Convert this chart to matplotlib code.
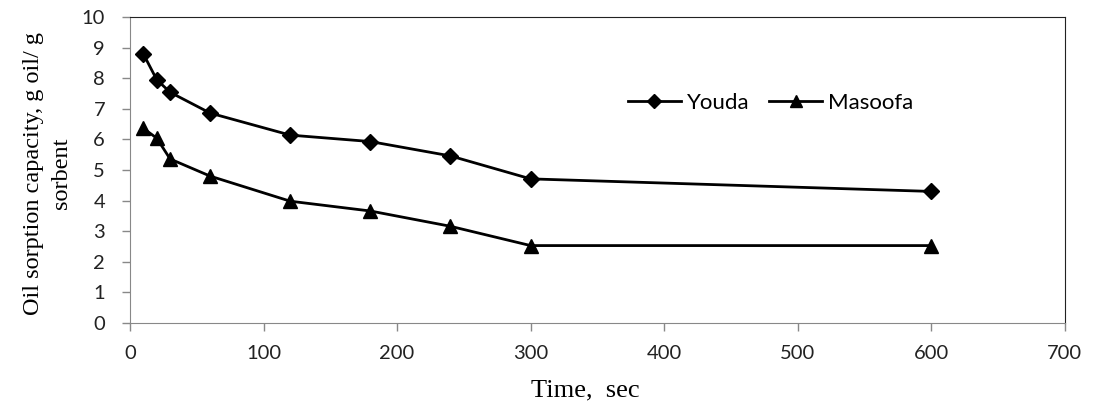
import matplotlib.pyplot as plt

time_sec = [10, 20, 30, 60, 120, 180, 240, 300, 600]
youda = [8.79, 7.95, 7.54, 6.86, 6.14, 5.93, 5.46, 4.71, 4.30]
masoofa = [6.36, 6.04, 5.36, 4.80, 3.98, 3.66, 3.16, 2.53, 2.53]

x_ticks = [0, 100, 200, 300, 400, 500, 600, 700]
y_ticks = list(range(0, 11))

fig = plt.figure(figsize=(10.93, 4.05), dpi=100)
ax = fig.add_axes([0.119, 0.2025, 0.855, 0.7555])

ax.plot(time_sec, youda, color='black', lw=2.0, marker='D', markersize=8.5, label='Youda')
ax.plot(time_sec, masoofa, color='black', lw=2.0, marker='^', markersize=10, label='Masoofa')

ax.set_xlim(0, 700)
ax.set_ylim(0, 10)
ax.set_xticks(x_ticks)
ax.set_yticks(y_ticks)

tick_font = 'Lato'
for lab in ax.get_xticklabels() + ax.get_yticklabels():
    lab.set_family(tick_font)
    lab.set_fontsize(14.5)
    lab.set_color('#222222')

ax.tick_params(axis='both', direction='out', length=6, width=1, color='#888888')
ax.tick_params(axis='x', pad=10)
ax.tick_params(axis='y', pad=12)

ax.spines['left'].set_color('#888888')
ax.spines['bottom'].set_color('#888888')
ax.spines['top'].set_color('#222222')
ax.spines['right'].set_color('#222222')

ax.set_xlabel('Time,  sec', family='Liberation Serif', fontsize=19)
ax.xaxis.set_label_coords(0.487, -0.185)
ax.set_ylabel('Oil sorption capacity, g oil/ g\nsorbent', family='Liberation Serif',
              fontsize=17.5, linespacing=1.45)
ax.yaxis.set_label_coords(-0.062, 0.489)

ax.legend(loc='center left', bbox_to_anchor=(0.511, 0.72), ncol=2, frameon=False,
          prop={'family': tick_font, 'size': 16}, handlelength=2.4, columnspacing=0.9,
          handletextpad=0.25, markerscale=0.8)

fig.savefig('out.png', dpi=100)
